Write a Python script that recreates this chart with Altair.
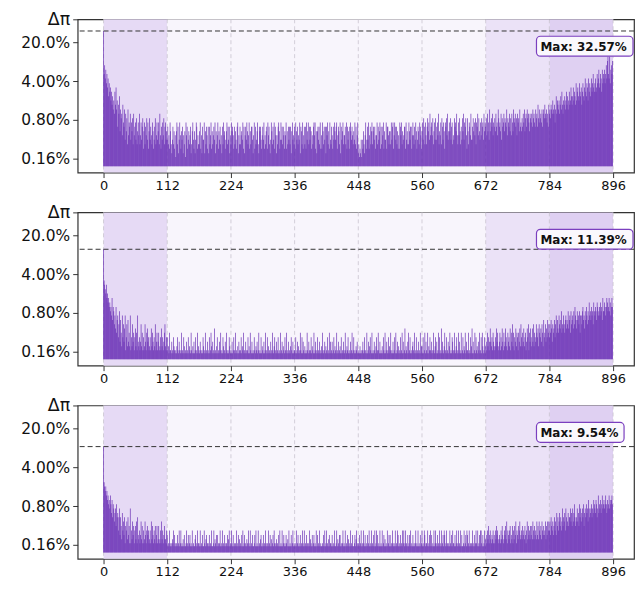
import altair as alt
import pandas as pd

# ---------------- data ----------------
X_TICKS = [0, 112, 224, 336, 448, 560, 672, 784, 896]
REGION_EDGES = [0, 112, 672, 784, 896]
REGION_COLORS = ["#e6daf5", "#f8f5fc", "#ebe2f7", "#dfd0f2"]
Y_TICKS = [0.16, 0.8, 4, 20, 53]
Y_TICK_LABELS = ["0.16%", "0.80%", "4.00%", "20.0%", "Δπ"]
MAX_VALUES = [32.57, 11.39, 9.54]   # value at index 0 ("#") of each panel, in %
BAR_BASE = 0.116                    # % where bars start

# per-bar height codes (value in %)
LEVELS = {
    "0": 0.13, "1": 0.15, "2": 0.17, "3": 0.20, "4": 0.24, "5": 0.29,
    "6": 0.35, "7": 0.42, "8": 0.50, "9": 0.60, "a": 0.72, "b": 0.86,
    "c": 1.03, "d": 1.24, "e": 1.50, "f": 1.80, "g": 2.15, "h": 2.60,
    "i": 3.10, "j": 3.70, "k": 4.50, "l": 5.40, "m": 6.50, "n": 7.80,
    "o": 9.30, "p": 11.2,
}

# each segment covers 112 indices (14 groups of 8)
PANEL1 = [
    "#lnkmjli kgjhifhe gdfcheid f9ecg8db c7ea9d6c 8b5d7a9c 6a8b5c79 a6b58a7c 57a69b48 a597b6a4 8b6975a8 469b57a6 8a5c7496 a7b59a68",
    "69574a85 36958472 8a5936a7 48693758 2a794685 79358a64 836a9475 58a47396 6a385974 93957a48 5796a385 7a486957 395a7846 8a596937",
    "5a897495 8649a375 95786a49 3796a857 a4859963 7a49568a 53989647 96a47589 4a79536a 8596a497 3759a846 a6959748 7a485969 5938a675",
    "94a86957 6a3985a4 79594a68 a5969847 59a7a483 89695a47 4a859693 97a584a6 597496a8 69a47985 a3968a57 795a4968 49a86975 86a5947a",
    "35243626 48537a46 96a47958 a5896947 7a5968a4 9597a486 6a499758 85a69a47 a9695847 4a97a586 7994a685 5a869947 a7596a84 6985a974",
    "8a6b95a7 59b8a6c7 9a7b58a6 b69a7c58 7a5b96a8 4a9b7c68 a8b69a57 6b9a8c75 a7b8596b 8c6a9b74 b85a97c6 69b8a7b5 a9c7b86a 7b9a6c8a",
    "9b7c8a6d 8ab9c7a9 b8c9a7db 9a8c6b9a c8ba9d7b a9c8b7ca 8dbac9b7 cab8d9a8 b9cad8bc 9dbca8cb ac9dbca9 dbc9ebad bcad9cdb ecbdac9e",
    "cdbedcfd ceadgcfe dfcegdhe cfegdfhe gdfhefig egifhgej fhigfjhg iehjgfik hgjifkhj gikhjlih jkhiljkm ijlkhmjl kmjlnkop lkpjmnlo",
]
PANEL2 = [
    "#ihgfhef decdbcae 9cb8a7c6 9a58b496 3a5847a2 5839463a 25384625 7362a435 24836252 38426745 23527364 25382462 46235273 52468325",
    "52316221 42153212 13521421 26121531 21412513 21621314 12521613 21421215 31261214 21512631 42171213 51214261 21531241 62121531",
    "21412521 61213142 12513261 21421251 31621412 15213241 26121513 21412612 51312142 16213521 41251216 12413215 21621412 13521412",
    "21512413 12621514 21312162 14212513 21612412 51214213 16212413 21512614 12412513 21621412 31512142 16213251 21412612 51213241",
    "12131212 41251216 12413521 61214213 51262141 21315216 12412513 26121412 51612413 21512614 12713214 61251213 42161251 21412613",
    "31512614 21613252 14216213 51412615 21714213 62151241 36121542 16213512 61421612 51326142 21612513 71412615 23142612 51631251",
    "34263524 74352643 25374632 46253742 63475326 45372648 36254736 52647385 36473562 47582647 53748365 48657386 57486395 68475968",
    "58697486 7958a697 6a879b68 7a869a79 8b79a6b8 9a7b8ca9 7b9a8b6a a8bc9a7b 9ca8b9da b9cab8db acb9dcab cadbc9eb bdcacedb cebdacec",
]
PANEL3 = [
    "#gfefdec dbcadb9c 8ba79a6b 8958a486 39574826 5738462a 25374625 63728435 24736252 37425645 23527364 25362462 36235273 52463325",
    "41215212 13251421 21412512 51213141 12512412 41215121 13412512 21512141 15213412 21412151 12513214 41212512 15121412 21413512",
    "15214121 21512413 12141512 41213215 21512141 12415121 51213412 14121521 21512413 12415212 31214151 21512412 14213151 21412512",
    "12151241 21412152 15121412 21513214 12412151 41215121 12141512 51213412 21412151 12513214 41212512 15121413 21512141 12413512",
    "21412512 15214121 41251215 12141512 51412151 21512413 12151241 41215212 15121541 21412152 51251214 12415121 41212512 15121412",
    "51215412 21512415 14121512 52141215 21512415 41251212 15214152 21412512 51215141 12512415 41251212 15214125 21512415 52141251",
    "34253624 53243524 25364532 43253642 35463725 43562436 25364725 43657345 36453642 57364536 46375364 53746375 46375464 57364757",
    "57486574 68574968 5796857a 68795a86 79688a79 6a79b867 8a796b8a 79a8b69a 8b9a7ca8 9ab8a9cb a9cb8ad9 bac9bdab cabdb9ca bdacbcdb",
]
PANELS = [PANEL1, PANEL2, PANEL3]

# ---------------- style ----------------
W, H = 559, 154
X_DOMAIN = [-45.5, 932.8]
Y_DOMAIN = [0.089, 53]
BAR_COLOR = "#6529b3"
FONT = "DejaVu Sans"


def decode(segments, max_val):
    rows = []
    for s_i, seg in enumerate(segments):
        codes = seg.replace(" ", "")
        n = len(codes)
        start = REGION_EDGES[0] + 112 * s_i
        for i, ch in enumerate(codes):
            v = max_val if ch == "#" else LEVELS[ch]
            rows.append({"idx": start + i * 112.0 / n, "val": v})
    return pd.DataFrame(rows)


label_expr = "".join(
    f"abs(datum.value - {v}) < 1e-6 ? '{t}' : " for v, t in zip(Y_TICKS, Y_TICK_LABELS)
) + "''"

x_scale = alt.Scale(domain=X_DOMAIN, nice=False, zero=False, padding=0)
y_scale = alt.Scale(type="log", domain=Y_DOMAIN, nice=False)

x_axis = alt.Axis(values=X_TICKS, title=None, grid=False, domain=False,
                  labelFontSize=13, tickSize=5, tickColor="#333",
                  labelColor="#111", labelFlush=False, labelPadding=2)
y_axis = alt.Axis(values=Y_TICKS, labelExpr=label_expr, title=None,
                  labelFontSize={"condition": {"test": "datum.value > 30", "value": 17.5},
                                 "value": 15.5},
                  labelColor="#111", tickSize=5, tickColor="#333",
                  grid=False, domain=False, minExtent=69, labelPadding=3,
                  labelOverlap=False, labelBound=False)


def make_panel(segments, max_val):
    df = decode(segments, max_val)
    regions = pd.DataFrame({
        "x0": REGION_EDGES[:-1], "x1": REGION_EDGES[1:], "c": REGION_COLORS,
    })
    ticks = pd.DataFrame({"t": X_TICKS})
    label = f"Max: {max_val:.2f}%"
    lab = pd.DataFrame({"label": [label]})
    bx = 461
    bw = 9 * len(label) - 2

    shade = alt.Chart(regions).mark_rect().encode(
        x=alt.X("x0:Q", scale=x_scale, axis=x_axis),
        x2="x1:Q",
        y=alt.value(0), y2=alt.value(H),
        color=alt.Color("c:N", scale=None),
    )
    grid = alt.Chart(ticks).mark_rule(color="#c9c4cf", strokeWidth=0.8,
                                      strokeDash=[4, 3]).encode(x=alt.X("t:Q", scale=x_scale))
    bars = alt.Chart(df).mark_bar(size=0.7, color=BAR_COLOR, opacity=0.95).encode(
        x=alt.X("idx:Q", scale=x_scale),
        y=alt.Y("val:Q", scale=y_scale, axis=y_axis),
        y2=alt.datum(BAR_BASE),
    )
    maxline = alt.Chart(lab).mark_rule(color="#333", strokeWidth=1,
                                       strokeDash=[5, 3]).encode(y=alt.datum(max_val))
    box = alt.Chart(lab).mark_rect(cornerRadius=4, fill="#faf8fd", stroke="#7b3fbf",
                                   strokeWidth=1.2).encode(
        x=alt.value(bx), x2=alt.value(bx + bw), y=alt.value(17), y2=alt.value(37))
    text = alt.Chart(lab).mark_text(align="left", baseline="middle", fontSize=12,
                                    fontWeight="bold", font=FONT, color="#111").encode(
        x=alt.value(bx + 4), y=alt.value(27.5), text="label:N")
    return alt.layer(shade, grid, bars, maxline, box, text).properties(width=W, height=H)


chart = alt.vconcat(
    *[make_panel(p, m) for p, m in zip(PANELS, MAX_VALUES)], spacing=40, bounds="flush"
).properties(padding={"left": 0, "top": 0, "right": 0, "bottom": 0}).configure(
    font=FONT).configure_view(stroke="#333", strokeWidth=1.2)

chart.save("out.html", embed_options={"renderer": "svg", "actions": False})
